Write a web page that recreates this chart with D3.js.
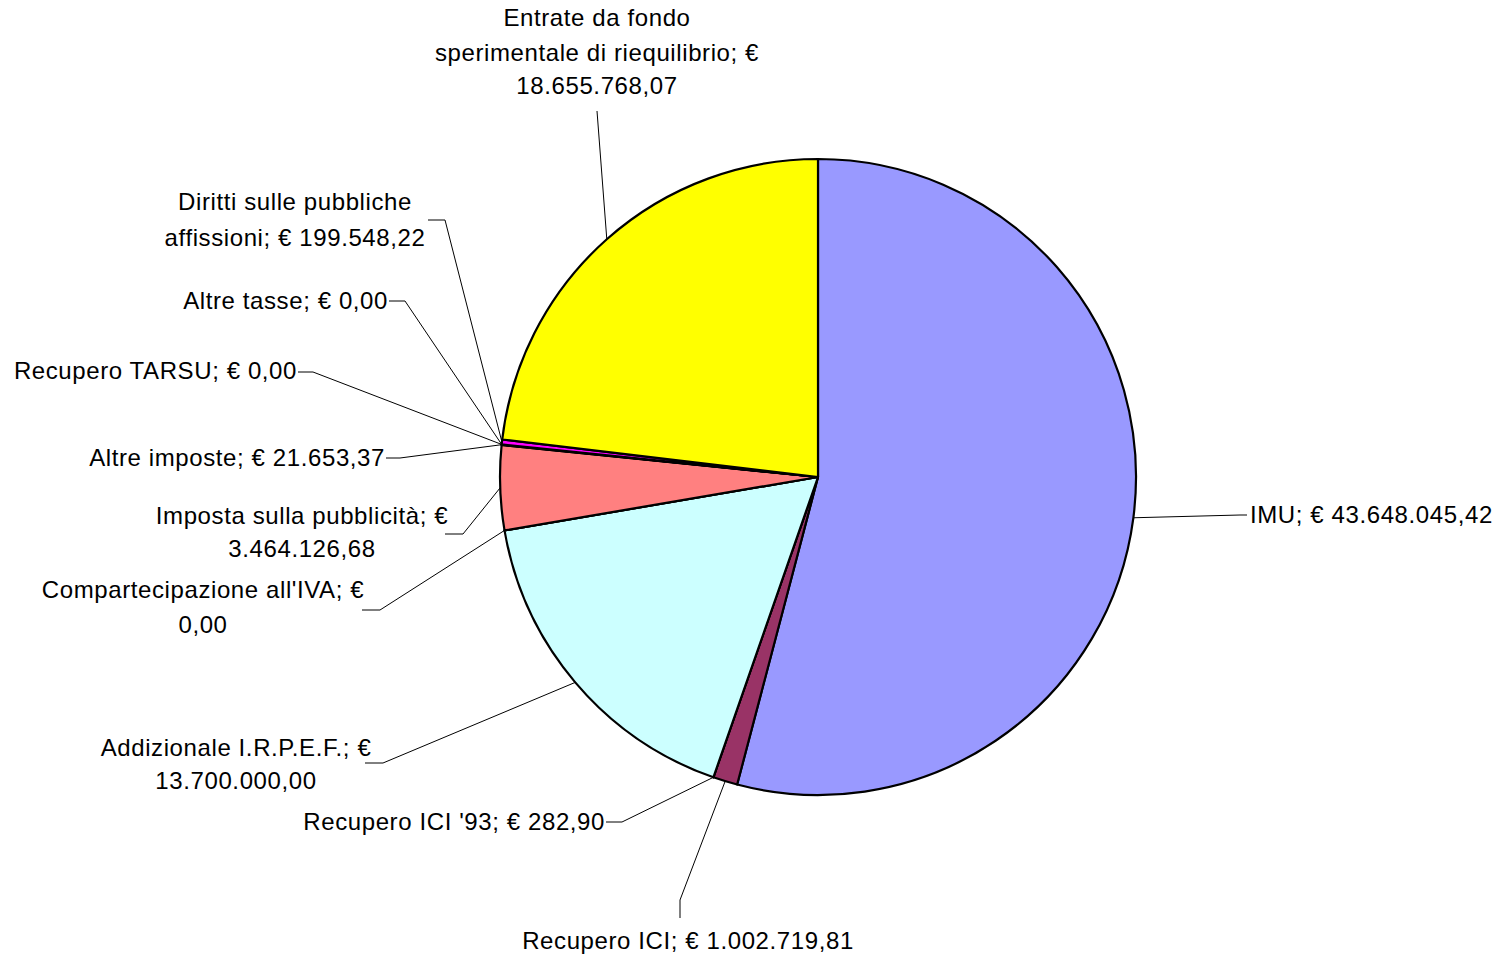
<!DOCTYPE html>
<html><head><meta charset="utf-8">
<script src="https://cdn.jsdelivr.net/npm/d3@7"></script>
<style>
body{margin:0;background:#fff}
text{font-family:"Liberation Sans",Arial,sans-serif;font-size:24px;letter-spacing:0.6px;fill:#000}
</style>
</head><body><svg id="c" width="1497" height="959"></svg>
<script>
// ---- data ----
const categories = ["IMU","Recupero ICI","Recupero ICI '93","Addizionale I.R.P.E.F.","Compartecipazione all'IVA","Imposta sulla pubblicità","Altre imposte","Recupero TARSU","Altre tasse","Diritti sulle pubbliche affissioni","Entrate da fondo sperimentale di riequilibrio"];
const values = [43648045.42, 1002719.81, 282.90, 13700000.00, 0, 3464126.68, 21653.37, 0, 0, 199548.22, 18655768.07];
const colors = ["#9999FF","#993366","#FFFFCC","#CCFFFF","#660066","#FF8080","#0066CC","#CCCCFF","#000080","#FF00FF","#FFFF00"];

// ---- label layout (positions only) ----
const labelWords = [[0],[0],[0],[3,1],[3,1],[4,1],[0],[0],[0],[3,3],[3,4,1]];
const labelAnchor = ["start","middle","end","middle","middle","middle","end","end","end","middle","middle"];
const labelX = [1250,688,605,236,203,302,385,297,388,295,597];
const labelY = [[515],[941],[822],[748,781],[590,625],[516,549],[458],[371],[301],[202,238],[18,53,86]];
const elbow = [[1240,515],[680,900],[622,822],[383,763],[380,610],[463,534],[400,458],[313,372],[405,301],[445,220],[597,111]];
const lineEnd = [[1247,515],[680,918],[606,822],[365,763],[362,610],[445,534],[386,458],[298,372],[389,301],[428,220],[597,111]];

const cx = 818, cy = 477, R = 318;

const loc = d3.formatLocale({decimal:",", thousands:".", grouping:[3], currency:["€ ",""]});
const fmt = loc.format(",.2f");

const svg = d3.select("#c");
const g = svg.append("g").attr("transform", `translate(${cx},${cy})`);

const data = categories.map((c,i)=>({cat:c, value:values[i], i}));
const pie = d3.pie().value(d=>d.value).sort(null).startAngle(0).endAngle(2*Math.PI);
const arcs = pie(data);
const arc = d3.arc().innerRadius(0).outerRadius(R);
const edge = d3.arc().innerRadius(R).outerRadius(R);

g.selectAll("path.slice").data(arcs).join("path")
  .attr("class","slice")
  .attr("d", arc)
  .attr("fill", d=>colors[d.data.i])
  .attr("stroke","#000")
  .attr("stroke-width",2.2)
  .attr("stroke-linejoin","round");

// leader lines
const lines = svg.append("g");
arcs.forEach(d=>{
  const i = d.data.i;
  const p = edge.centroid(d);
  const pts = [[p[0]+cx, p[1]+cy], elbow[i], lineEnd[i]];
  lines.append("path")
    .attr("d", d3.line()(pts))
    .attr("fill","none")
    .attr("stroke","#000")
    .attr("stroke-width",1);
});

// labels
const labels = svg.append("g");
arcs.forEach(d=>{
  const i = d.data.i;
  const full = `${d.data.cat}; € ${fmt(d.data.value)}`;
  const words = full.split(" ");
  let rows;
  if (labelWords[i].length === 1 && labelWords[i][0] === 0) rows = [full];
  else {
    rows = []; let k = 0;
    labelWords[i].forEach(n=>{ rows.push(words.slice(k,k+n).join(" ")); k+=n; });
  }
  const t = labels.append("text").attr("text-anchor", labelAnchor[i]);
  rows.forEach((r,j)=>{
    t.append("tspan").attr("x", labelX[i]).attr("y", labelY[i][j]).attr("dy","0.35em").text(r);
  });
});
</script>
</body></html>
